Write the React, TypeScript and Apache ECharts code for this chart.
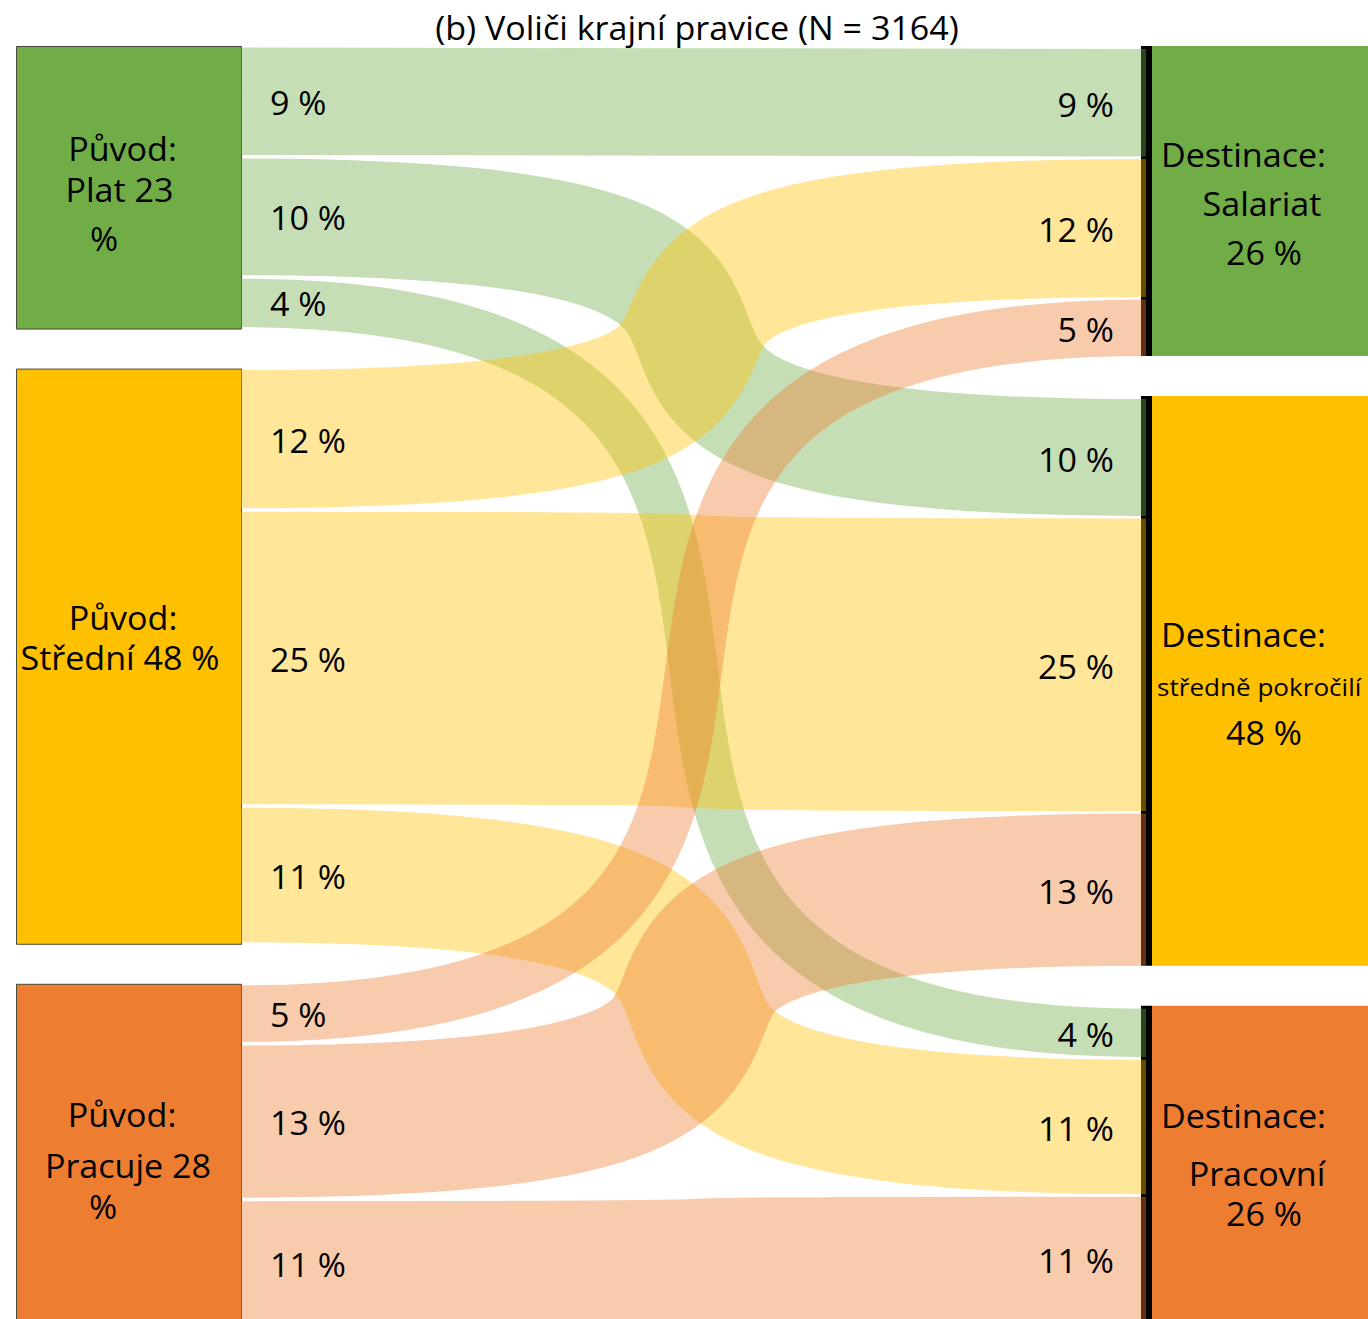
import React, { useEffect, useRef } from "react";
import * as echarts from "echarts";

// ---------- data ----------
const TITLE = "(b) Voliči krajní pravice (N = 3164)";
const originLabels = [
  ["Původ:", "Plat 23", "%"],
  ["Původ:", "Střední 48 %"],
  ["Původ:", "Pracuje 28", "%"],
];
const destLabels = [
  ["Destinace:", "Salariat", "26 %"],
  ["Destinace:", "středně pokročilí", "48 %"],
  ["Destinace:", "Pracovní", "26 %"],
];
// flows from each origin to destinations [Salariat, Střední, Pracovní], % of voters
const fromPlat = [9.1, 9.9, 4.1];
const fromStredni = [11.7, 24.8, 11.4];
const fromPracuje = [4.8, 12.9, 10.6];
const nodeColors = ["#70AD47", "#FFC000", "#ED7D31"];
const linkColors = ["rgba(112,173,71,0.4)", "rgba(255,192,0,0.4)", "rgba(237,125,49,0.4)"];

// ---------- layout ----------
const W = 1368;
const H = 1319;
const K = 11.8; // px per percentage point
const TOP = 46;
const LEFT_X0 = 16, LEFT_X1 = 241;
const LINK_X0 = 241, LINK_X1 = 1146;
const BAR_X0 = 1141, BAR_X1 = 1152, RIGHT_X1 = 1400;
const CURV = 0.9;
const FONT = "'Open Sans', 'Noto Sans', sans-serif";
const LBL = 32;
const SX = 1.065;

const flows = [fromPlat, fromStredni, fromPracuje];
const padU = 1.5 / K, nodeGapU = 40 / K;

function layoutColumn(groups: number[][], pad0: number, pad1: number, gapU: number) {
  const nodes: { y0: number; y1: number }[] = [];
  const bands: { y0: number; y1: number }[][] = [];
  let y = 0;
  groups.forEach((g) => {
    const n0 = y;
    let c = y + pad0;
    const b: { y0: number; y1: number }[] = [];
    g.forEach((v, k) => {
      b.push({ y0: c, y1: c + v });
      c += v + (k < g.length - 1 ? gapU : 0);
    });
    const n1 = c + pad1;
    nodes.push({ y0: n0, y1: n1 });
    bands.push(b);
    y = n1 + nodeGapU;
  });
  return { nodes, bands };
}
const left = layoutColumn(flows, padU, padU, 3.5 / K);
const right = layoutColumn([0, 1, 2].map((j) => flows.map((f) => f[j])), 3 / K, 0, 2.5 / K);

const linkData = [] as number[][];
flows.forEach((f, i) => f.forEach((v, j) => linkData.push([i, j, v])));

// node label offsets [dx from node centre, dy from node centre]
const leftLineOff = [
  [[-6, -38.5], [-9, 2.5], [-24.5, 51.5]],
  [[-5.5, -38], [-8.5, 2]],
  [[-6.5, -40.5], [-0.5, 10.5], [-25.5, 51.5]],
];
const rightLineOff = [
  [[-16.5, -46.5], [2, 2.5], [4, 51.5]],
  [[-16.5, -46.5], [null, 5.5], [4, 51.5]],
  [[-16.5, -48], [-3, 10], [4, 50]],
];

export default function App() {
  const ref = useRef<HTMLDivElement>(null);
  useEffect(() => {
    const chart = echarts.init(ref.current!, null, { renderer: "svg" });
    const text = (x: number, y: number, s: string, align: string, size = LBL) => ({
      type: "text",
      x,
      y,
      scaleX: SX,
      style: { text: s, fontSize: size, fontFamily: FONT, fill: "#000", align, verticalAlign: "middle" },
    });
    chart.setOption({
      animation: false,
      graphic: [
        {
          type: "text",
          x: 697,
          y: 28,
          scaleX: SX,
          style: {
            text: TITLE,
            fontSize: 32,
            fontFamily: FONT,
            fill: "#000",
            align: "center",
            verticalAlign: "middle",
          },
        },
      ],
      grid: { left: 0, right: 0, top: 0, bottom: 0 },
      xAxis: { type: "value", min: 0, max: W, show: false },
      yAxis: { type: "value", min: -TOP / K, max: (H - TOP) / K, inverse: true, show: false },
      series: [
        {
          type: "custom",
          clip: false,
          z: 1,
          data: [0, 1, 2, 3, 4, 5].map((k) => [k]),
          renderItem: (params: any, api: any) => {
            const k = params.dataIndex;
            const isLeft = k < 3;
            const idx = k % 3;
            const n = isLeft ? left.nodes[idx] : right.nodes[idx];
            const children: any[] = [];
            if (isLeft) {
              const p0 = api.coord([LEFT_X0, n.y0]);
              const p1 = api.coord([LEFT_X1, n.y1]);
              children.push({
                type: "rect",
                shape: { x: p0[0] + 0.5, y: p0[1] + 0.5, width: p1[0] - p0[0], height: p1[1] - p0[1] },
                style: { fill: nodeColors[idx], stroke: "#4a4a3a", lineWidth: 1 },
              });
              const cx = (p0[0] + p1[0]) / 2;
              const cy = (p0[1] + p1[1]) / 2;
              originLabels[idx].forEach((s, li) => {
                const o = leftLineOff[idx][li];
                children.push(text(cx + o[0], cy + o[1], s, "center"));
              });
            } else {
              const b0 = api.coord([BAR_X0, n.y0]);
              const b1 = api.coord([BAR_X1, n.y1]);
              const r1 = api.coord([RIGHT_X1, n.y1]);
              children.push({
                type: "rect",
                shape: { x: b0[0], y: b0[1], width: b1[0] - b0[0], height: b1[1] - b0[1] },
                style: { fill: "#000" },
              });
              children.push({
                type: "rect",
                shape: { x: b1[0], y: b0[1], width: r1[0] - b1[0], height: b1[1] - b0[1] },
                style: { fill: nodeColors[idx] },
              });
              const cx = (b1[0] + api.coord([W, 0])[0]) / 2;
              const cy = (b0[1] + b1[1]) / 2;
              destLabels[idx].forEach((s, li) => {
                const o = rightLineOff[idx][li];
                if (o[0] === null) children.push(text(b1[0] + 5, cy + (o[1] as number), s, "left", 24.5));
                else children.push(text(cx + (o[0] as number), cy + (o[1] as number), s, "center"));
              });
            }
            return { type: "group", children };
          },
        },
        {
          type: "custom",
          clip: false,
          z: 2,
          data: linkData,
          renderItem: (params: any, api: any) => {
            const i = api.value(0);
            const j = api.value(1);
            const v = api.value(2);
            const lb = left.bands[i][j];
            const rb = right.bands[j][i];
            const p0 = api.coord([LINK_X0, (lb.y0 + lb.y1) / 2]);
            const p1 = api.coord([LINK_X1, (rb.y0 + rb.y1) / 2]);
            const w = api.size([0, v])[1];
            const dx = p1[0] - p0[0];
            return {
              type: "bezierCurve",
              shape: {
                x1: p0[0], y1: p0[1], x2: p1[0], y2: p1[1],
                cpx1: p0[0] + CURV * dx, cpy1: p0[1],
                cpx2: p1[0] - CURV * dx, cpy2: p1[1],
              },
              style: { stroke: linkColors[i], lineWidth: w, fill: null, lineCap: "butt" },
            };
          },
        },
        {
          type: "custom",
          clip: false,
          z: 3,
          data: linkData,
          renderItem: (params: any, api: any) => {
            const i = api.value(0);
            const j = api.value(1);
            const v = api.value(2);
            const lb = left.bands[i][j];
            const rb = right.bands[j][i];
            const p0 = api.coord([LINK_X0 + 29, (lb.y0 + lb.y1) / 2 + 1.5 / K]);
            const p1 = api.coord([LINK_X1 - 32, (rb.y0 + rb.y1) / 2 + 2 / K]);
            const s = Math.round(v) + " %";
            return {
              type: "group",
              children: [text(p0[0], p0[1], s, "left"), text(p1[0], p1[1], s, "right")],
            };
          },
        },
      ],
    });
    return () => chart.dispose();
  }, []);
  return (
    <div
      ref={ref}
      style={{ position: "absolute", left: 0, top: 0, width: W, height: H, background: "#fff" }}
    />
  );
}
